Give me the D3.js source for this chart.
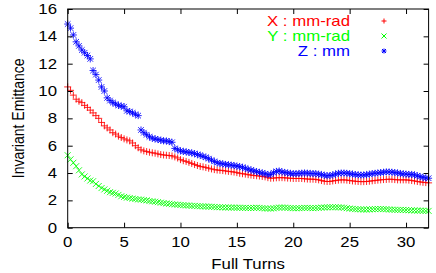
<!DOCTYPE html>
<html>
<head>
<meta charset="utf-8">
<script src="https://cdn.jsdelivr.net/npm/d3@7"></script>
<style>
  html, body { margin: 0; padding: 0; background: #fff; }
  svg text { font-family: "Liberation Sans", Arial, Helvetica, sans-serif; font-size: 14px; fill: #000; }
</style>
</head>
<body>
<div id="chart"></div>
<script>
// sample positions (full turns)
const turns = [0,0.25,0.5,0.75,1,1.25,1.5,1.75,2,2.25,2.5,2.75,3,3.25,3.5,3.75,4,4.25,4.5,4.75,
  5,5.25,5.5,5.75,6,6.25,6.5,6.75,7,7.25,7.5,7.75,8,8.25,8.5,8.75,9,9.25,9.5,9.75,
  10,10.25,10.5,10.75,11,11.25,11.5,11.75,12,12.25,12.5,12.75,13,13.25,13.5,13.75,14,14.25,14.5,14.75,
  15,15.25,15.5,15.75,16,16.25,16.5,16.75,17,17.25,17.5,17.75,18,18.25,18.5,18.75,19,19.25,19.5,19.75,
  20,20.25,20.5,20.75,21,21.25,21.5,21.75,22,22.25,22.5,22.75,23,23.25,23.5,23.75,24,24.25,24.5,24.75,
  25,25.25,25.5,25.75,26,26.25,26.5,26.75,27,27.25,27.5,27.75,28,28.25,28.5,28.75,29,29.25,29.5,29.75,
  30,30.25,30.5,30.75,31,31.25,31.5,31.75,32];

// X : mm-rad
const emitX = [10.3,10.05,9.7,9.4,9.25,9.15,8.95,8.8,8.6,8.4,8.2,8.0,7.7,7.45,7.3,7.15,6.95,6.85,6.7,6.6,
  6.5,6.42,6.35,6.2,6.0,5.85,5.7,5.62,5.57,5.52,5.48,5.45,5.4,5.35,5.32,5.3,5.28,5.25,5.18,5.1,
  4.98,4.9,4.85,4.78,4.7,4.62,4.55,4.48,4.45,4.4,4.35,4.3,4.25,4.22,4.2,4.18,4.15,4.12,4.1,4.07,
  4.03,3.98,3.95,3.92,3.88,3.85,3.82,3.8,3.78,3.75,3.72,3.66,3.62,3.63,3.65,3.66,3.66,3.65,3.63,3.62,
  3.6,3.6,3.6,3.6,3.58,3.56,3.55,3.55,3.53,3.5,3.45,3.4,3.38,3.38,3.42,3.45,3.48,3.5,3.5,3.48,
  3.45,3.42,3.4,3.38,3.37,3.37,3.38,3.4,3.43,3.45,3.48,3.5,3.52,3.53,3.55,3.54,3.52,3.5,3.5,3.5,
  3.5,3.48,3.45,3.42,3.38,3.35,3.32,3.3,3.28];

// Y : mm-rad
const emitY = [5.3,5.0,4.75,4.5,4.2,3.9,3.75,3.6,3.45,3.4,3.2,3.05,2.9,2.8,2.7,2.6,2.55,2.5,2.4,2.3,
  2.25,2.2,2.17,2.13,2.1,2.07,2.05,2.02,2.0,1.95,1.93,1.9,1.87,1.83,1.8,1.77,1.75,1.72,1.7,1.68,
  1.66,1.65,1.63,1.62,1.6,1.6,1.58,1.57,1.56,1.55,1.54,1.53,1.52,1.5,1.5,1.49,1.48,1.48,1.47,1.47,
  1.46,1.46,1.45,1.45,1.44,1.44,1.45,1.46,1.45,1.43,1.41,1.4,1.4,1.42,1.45,1.47,1.48,1.47,1.45,1.44,
  1.43,1.42,1.43,1.44,1.45,1.45,1.44,1.43,1.44,1.45,1.47,1.48,1.49,1.5,1.5,1.5,1.49,1.48,1.46,1.43,
  1.4,1.38,1.36,1.35,1.34,1.33,1.33,1.34,1.35,1.36,1.37,1.37,1.36,1.35,1.33,1.32,1.31,1.3,1.3,1.3,
  1.29,1.28,1.27,1.26,1.25,1.25,1.24,1.23,1.23];

// Z : mm
const emitZ = [14.9,14.6,14.1,13.6,13.3,13.0,12.8,12.6,12.35,11.5,11.2,10.8,10.3,10.0,9.5,9.3,9.15,9.05,8.95,8.9,
  8.85,8.55,8.5,8.4,8.3,8.2,7.15,6.95,6.8,6.65,6.55,6.5,6.45,6.4,6.35,6.35,6.3,6.25,5.8,5.7,
  5.62,5.58,5.55,5.5,5.47,5.42,5.35,5.3,5.22,5.15,5.05,4.95,4.85,4.75,4.7,4.67,4.63,4.6,4.58,4.55,
  4.5,4.47,4.42,4.35,4.28,4.22,4.15,4.1,4.05,4.0,3.95,3.88,3.9,4.02,4.12,4.15,4.08,4.04,4.0,3.97,
  3.95,3.95,3.97,3.99,4.0,3.99,3.97,3.96,3.95,3.92,3.88,3.84,3.8,3.82,3.86,3.92,3.98,4.0,4.0,3.98,
  3.95,3.92,3.89,3.87,3.85,3.86,3.88,3.92,3.95,3.98,4.0,4.03,4.06,4.08,4.08,4.06,4.03,4.0,3.97,3.94,
  3.92,3.9,3.9,3.86,3.8,3.74,3.68,3.64,3.62];

const xTicks = [0, 5, 10, 15, 20, 25, 30];
const yTicks = [0, 2, 4, 6, 8, 10, 12, 14, 16];
const seriesNames = ["X : mm-rad", "Y : mm-rad", "Z : mm"];

const W = 436, H = 273;
const mLeft = 67.7, mRight = 428.6, mTop = 9, mBottom = 227.7;
const stretch = 1.2; // text in the reference is drawn wide

const x = d3.scaleLinear().domain([0, 32]).range([mLeft, mRight]);
const y = d3.scaleLinear().domain([0, 16]).range([mBottom, mTop]);

const svg = d3.select("#chart").append("svg")
  .attr("width", W).attr("height", H);

svg.append("rect").attr("width", W).attr("height", H).attr("fill", "#fff");

// symbol path builders
const plus = (px, py, s) => `M${px - s},${py}h${2 * s}M${px},${py - s}v${2 * s}`;
const cross = (px, py, s) => `M${px - s},${py - s}l${2 * s},${2 * s}M${px - s},${py + s}l${2 * s},${-2 * s}`;
const star = (px, py, s) => plus(px, py, s) + cross(px, py, s * 0.8);

const series = [
  {name: seriesNames[0], values: emitX, color: "#ff0000", size: 3.5, sym: plus},
  {name: seriesNames[1], values: emitY, color: "#00ff00", size: 3, sym: cross},
  {name: seriesNames[2], values: emitZ, color: "#0000ff", size: 3.5, sym: star}
];

// points
series.forEach(s => {
  svg.append("path")
    .attr("d", s.values.map((v, i) => s.sym(x(turns[i]), y(v), s.size)).join(""))
    .attr("fill", "none")
    .attr("stroke", s.color)
    .attr("stroke-width", 1)
    .attr("stroke-opacity", 0.85);
});

// axes with inward ticks, mirrored on top/right
const tl = 5;
const gx = svg.append("g").attr("transform", `translate(0,${mBottom})`)
  .call(d3.axisBottom(x).tickValues(xTicks).tickSize(-tl).tickFormat(""));
const gxTop = svg.append("g").attr("transform", `translate(0,${mTop})`)
  .call(d3.axisTop(x).tickValues(xTicks).tickSize(-tl).tickFormat(""));
const gy = svg.append("g").attr("transform", `translate(${mLeft},0)`)
  .call(d3.axisLeft(y).tickValues(yTicks).tickSize(-tl).tickFormat(""));
const gyR = svg.append("g").attr("transform", `translate(${mRight},0)`)
  .call(d3.axisRight(y).tickValues(yTicks).tickSize(-tl).tickFormat(""));
[gx, gxTop, gy, gyR].forEach(g => {
  g.select(".domain").remove();
  g.selectAll("line").attr("stroke", "#000").attr("stroke-width", 1);
});

svg.append("rect")
  .attr("x", mLeft).attr("y", mTop)
  .attr("width", mRight - mLeft).attr("height", mBottom - mTop)
  .attr("fill", "none").attr("stroke", "#000").attr("stroke-width", 1);

// wide text helper
function label(px, py, str, anchor, color, rot) {
  const g = svg.append("g")
    .attr("transform", `translate(${px},${py}) scale(${stretch},1)` + (rot ? ` rotate(${rot})` : ""));
  g.append("text").attr("text-anchor", anchor).style("fill", color || "#000").text(str);
}

xTicks.forEach(t => label(x(t), 247, t, "middle"));
yTicks.forEach(t => label(57, y(t) + 5, t, "end"));

label((mLeft + mRight) / 2, 269, "Full Turns", "middle");
label(24, (mTop + mBottom) / 2, "Invariant Emittance", "middle", "#000", -90);

// legend
series.forEach((s, i) => {
  label(350, 26 + i * 15, s.name, "end", s.color);
  svg.append("path")
    .attr("d", s.sym(384, 21 + i * 15, 2.5))
    .attr("fill", "none").attr("stroke", s.color).attr("stroke-width", 1);
});
</script>
</body>
</html>
